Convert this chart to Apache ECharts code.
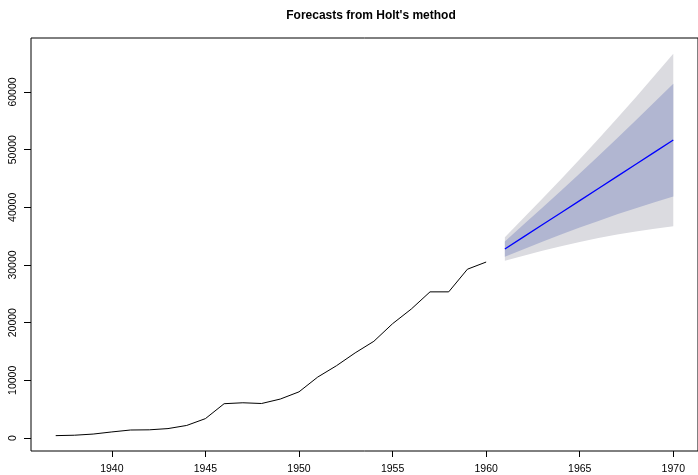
<!DOCTYPE html>
<html><head><meta charset="utf-8">
<script src="https://cdn.jsdelivr.net/npm/echarts@6/dist/echarts.min.js"></script>
<style>html,body{margin:0;padding:0;background:#fff}#c{width:698px;height:475px}</style>
</head><body><div id="c"></div>
<script>
// Observed series (passenger miles)
const years = [1937,1938,1939,1940,1941,1942,1943,1944,1945,1946,1947,1948,1949,1950,1951,1952,1953,1954,1955,1956,1957,1958,1959,1960];
const miles = [412,480,683,1052,1385,1418,1634,2178,3362,5948,6109,5981,6753,8003,10566,12528,14760,16769,19819,22362,25340,25343,29269,30514];
// Forecast
const fYears = [1961,1962,1963,1964,1965,1966,1967,1968,1969,1970];
const fMean = [32770,34870,36970,39070,41170,43270,45370,47470,49570,51670];
const lo80 = [31450,32730,34020,35270,36490,37650,38780,39860,40890,41890];
const hi80 = [34090,37010,39920,42870,45860,48890,51960,55080,58250,61450];
const lo95 = [30750,31600,32460,33260,34010,34680,35290,35830,36300,36710];
const hi95 = [34800,38140,41480,44880,48330,51860,55450,59110,62840,66630];
const xTicks = [1940,1945,1950,1955,1960,1965,1970];
const yTicks = [0,10000,20000,30000,40000,50000,60000];
const titleText = "Forecasts from Holt's method";

const chart = echarts.init(document.getElementById('c'), null, {renderer:'canvas'});
function band(lo, hi, color){
  return {
    type:'custom', coordinateSystem:'cartesian2d', silent:true, z:1,
    data:[[fYears[0], lo[0]]],
    renderItem:(params, api)=>{
      const pts=[];
      for(let i=0;i<fYears.length;i++) pts.push(api.coord([fYears[i], hi[i]]));
      for(let i=fYears.length-1;i>=0;i--) pts.push(api.coord([fYears[i], lo[i]]));
      return {type:'polygon', shape:{points:pts}, style:{fill:color, stroke:null}};
    }
  };
}
const font = 'Liberation Sans, Arial, Helvetica, sans-serif';
chart.setOption({
  animation:false,
  backgroundColor:'#fff',
  title:{text:titleText, left:366, top:5, textAlign:'center',
    textStyle:{fontFamily:font, fontSize:12, fontWeight:'bold', color:'#000'}},
  grid:{left:31, top:38, width:670, height:413, show:true, borderColor:'#000', borderWidth:1, backgroundColor:'transparent'},
  xAxis:{type:'value', min:1935.68, max:1971.32,
    axisLine:{show:false, onZero:false}, splitLine:{show:false},
    axisTick:{show:true, length:6, lineStyle:{color:'#000'}, customValues:xTicks},
    axisLabel:{customValues:xTicks, margin:13, color:'#000', fontFamily:font, fontSize:10.5, formatter:v=>String(v)}},
  yAxis:{type:'value', min:-2254, max:69364,
    axisLine:{show:false, onZero:false}, splitLine:{show:false},
    axisTick:{show:true, length:7, lineStyle:{color:'#000'}, customValues:yTicks},
    axisLabel:{customValues:yTicks, rotate:90, margin:12, color:'#000', fontFamily:font, fontSize:10.5, formatter:v=>String(v)}},
  series:[
    band(lo95, hi95, '#DBDBE0'),
    band(lo80, hi80, '#B1B6D1'),
    {type:'line', data:years.map((y,i)=>[y,miles[i]]), showSymbol:false, symbol:'none',
      lineStyle:{color:'#000', width:1}, z:3},
    {type:'line', data:fYears.map((y,i)=>[y,fMean[i]]), showSymbol:false, symbol:'none',
      lineStyle:{color:'#0000FF', width:1.3}, z:4}
  ]
});
</script></body></html>
